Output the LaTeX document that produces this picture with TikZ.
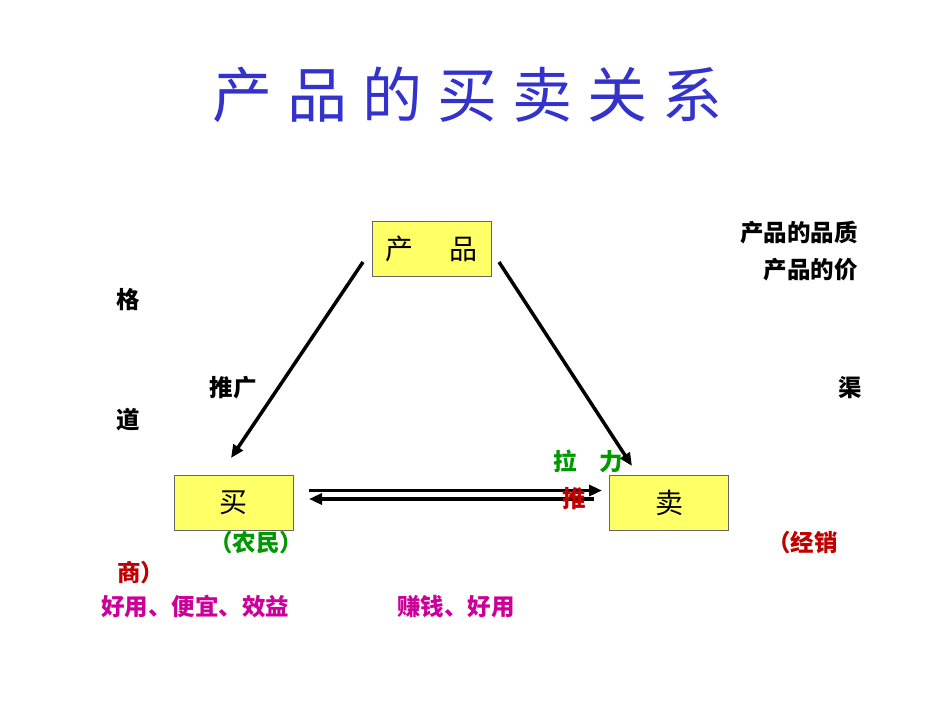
\documentclass[tikz,border=0pt]{standalone}
\usepackage{fontspec}
\setmainfont{Noto Sans CJK SC}
\usetikzlibrary{arrows.meta}
\definecolor{titleblue}{RGB}{51,51,204}
\definecolor{boxyellow}{RGB}{255,255,102}
\definecolor{labgreen}{RGB}{0,153,0}
\definecolor{labred}{RGB}{192,0,0}
\definecolor{labpink}{RGB}{204,0,153}
\tikzset{
  party/.style={draw=black!60, fill=boxyellow, line width=1pt, minimum width=119pt, minimum height=55pt, inner sep=0pt, font=\fontsize{28}{30}\selectfont},
  lab/.style={inner sep=0pt, font=\bfseries\fontsize{23.5}{25}\selectfont},
  flow/.style={line width=3.5pt, -{Triangle[length=13pt,width=11pt]}}
}
\begin{document}
\begin{tikzpicture}[x=1pt,y=-1pt]
  \useasboundingbox[fill=white] (0,0) rectangle (950,713);
  %%%%% title %%%%%
  \node[titleblue, inner sep=0pt, font=\fontsize{60}{64}\selectfont] (title) at (467,95)
    {产\hspace{15pt}品\hspace{15pt}的\hspace{15pt}买\hspace{15pt}卖\hspace{15pt}关\hspace{15pt}系};

  %%%%% boxes %%%%%
  \node[party] (prod) at (431.5,249) {产\hspace{36pt}品};
  \node[party] (buy)  at (233.5,502.5) {买};
  \node[party] (sell) at (669,502.5) {卖};

  %%%%% arrows %%%%%
  \coordinate (pl) at (363,262);
  \coordinate (pr) at (499,262);
  \coordinate (bt) at (309,490.5);
  \coordinate (st) at (602,490.5);
  \coordinate (bb) at (309,499);
  \coordinate (sb) at (594,499);
  \draw[flow] (pl) -- (231,458);
  \draw[flow] (pr) -- (632,466);
  \draw[flow] (bt) -- (st);
  \draw[flow] (sb) -- (bb);

  %%%%% labels %%%%%
  \node[lab, anchor=east] (qual) at (858,233) {产品的品质};
  \node[lab, anchor=east] (price) at (858,270) {产品的价};
  \node[lab] (ge) at (128,300) {格};
  \node[lab] (tg) at (233,388) {推广};
  \node[lab] (qu) at (850,388) {渠};
  \node[lab] (dao) at (128,420) {道};
  \node[lab, labgreen] (pull) at (588,461) {拉\hspace{22pt}力};
  \node[lab, labred] (push) at (574,499) {推};
  \node[lab, labgreen] (farmer) at (256,543) {（农民）};
  \node[lab, labred, anchor=east] (dealer) at (838,543) {（经销};
  \node[lab, labred, anchor=west] (shang) at (117,573) {商）};
  \node[lab, labpink, anchor=west] (need1) at (101,607) {好用、便宜、效益};
  \node[lab, labpink, anchor=west] (need2) at (397,607) {赚钱、好用};
\end{tikzpicture}
\end{document}
